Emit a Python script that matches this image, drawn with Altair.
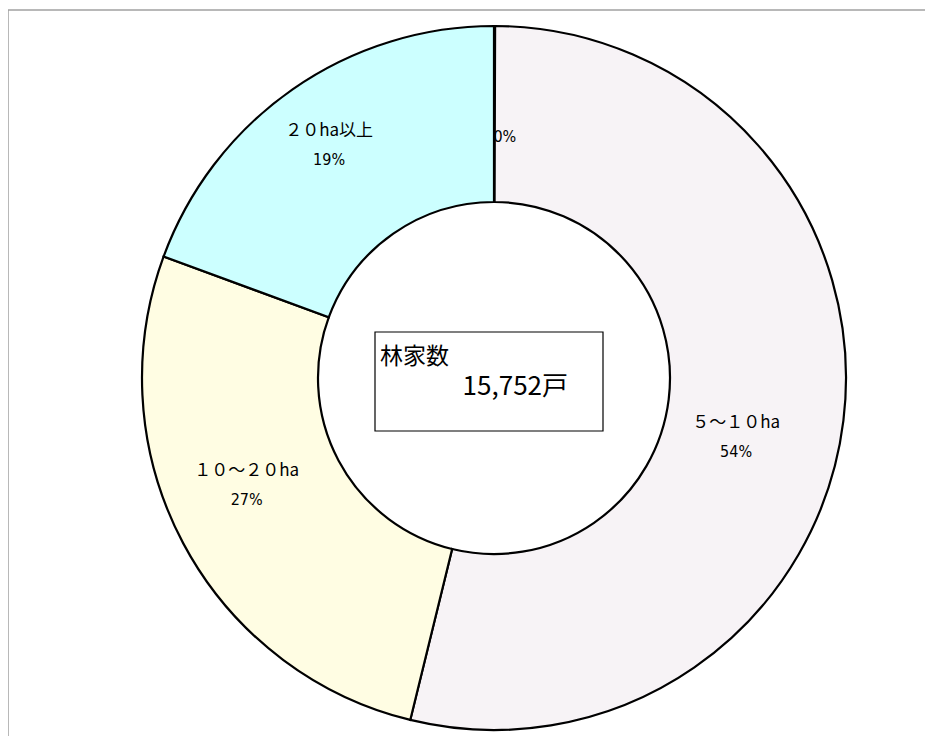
import altair as alt
import pandas as pd

# data
categories = ["", "５～１０ha", "１０～２０ha", "２０ha以上"]
shares = [0.05, 53.8, 26.8, 19.4]
pct_labels = ["0%", "54%", "27%", "19%"]
fills = ["#f7f3f6", "#f7f3f6", "#fffde3", "#ccffff"]
center_title = "林家数"
center_value = "15,752戸"

df = pd.DataFrame({
    "cat": categories,
    "share": shares,
    "pct": pct_labels,
    "idx": list(range(len(categories))),
})

CX, CY = 486, 370
R_OUT, R_IN = 352, 176
R_LAB = 262
NARROW = "Liberation Sans Narrow, DejaVu Sans Condensed, Noto Sans"

# per-label nudges (label placement style)
nudges = {0: (0, 0), 1: (-18, 28), 2: (-16, -15), 3: (-15, -17)}

theta = alt.Theta("share:Q", stack=True)
order = alt.Order("idx:Q", sort="ascending")
color = alt.Color("idx:N", scale=alt.Scale(domain=list(range(len(categories))), range=fills), legend=None)

base = alt.Chart(df)

arcs = base.mark_arc(stroke="black", strokeWidth=2.2).encode(
    theta=theta, order=order, color=color,
    x=alt.value(CX), y=alt.value(CY),
    radius=alt.value(R_OUT), radius2=alt.value(R_IN),
)

label_layers = []
for i in range(1, len(categories)):
    ndx, ndy = nudges[i]
    label_layers.append(
        base.transform_calculate(t=f"datum.idx == {i} ? datum.cat : ''").mark_text(
            font="Noto Sans CJK JP", fontSize=17, color="black", dx=ndx, dy=ndy - 15
        ).encode(theta=theta, order=order, text="t:N",
                 x=alt.value(CX), y=alt.value(CY), radius=alt.value(R_LAB))
    )
    label_layers.append(
        base.transform_calculate(t=f"datum.idx == {i} ? datum.pct : ''").mark_text(
            font=NARROW, fontSize=16, color="black", dx=ndx, dy=ndy + 14
        ).encode(theta=theta, order=order, text="t:N",
                 x=alt.value(CX), y=alt.value(CY), radius=alt.value(R_LAB))
    )

zero = base.transform_calculate(t="datum.idx == 0 ? datum.pct : ''").mark_text(
    font=NARROW, fontSize=16, color="black", align="left", dx=-1
).encode(
    theta=theta, order=order, text="t:N",
    x=alt.value(CX), y=alt.value(CY), radius=alt.value(241),
)

box = alt.Chart(pd.DataFrame({"a": [0]})).mark_rect(
    fill="white", stroke="black", strokeWidth=1.2
).encode(x=alt.value(367), x2=alt.value(595), y=alt.value(324), y2=alt.value(423))

t1 = alt.Chart(pd.DataFrame({"t": [center_title]})).mark_text(
    font="Noto Sans CJK JP", fontSize=23, align="left", baseline="middle", color="black"
).encode(x=alt.value(372), y=alt.value(349), text="t:N")

t2 = alt.Chart(pd.DataFrame({"t": [center_value]})).mark_text(
    font="Noto Sans CJK JP", fontSize=26, align="right", baseline="middle", color="black"
).encode(x=alt.value(560), y=alt.value(379), text="t:N")

frame_top = alt.Chart(pd.DataFrame({"a": [0]})).mark_rule(color="#a0a0a0", strokeWidth=1.5).encode(
    x=alt.value(0), x2=alt.value(917), y=alt.value(2)
)
frame_left = alt.Chart(pd.DataFrame({"a": [0]})).mark_rule(color="#a0a0a0", strokeWidth=1.5).encode(
    x=alt.value(0), y=alt.value(2), y2=alt.value(728)
)

chart = alt.layer(
    frame_top, frame_left, arcs, *label_layers, zero, box, t1, t2
).properties(
    width=917, height=728, padding=0,
    autosize=alt.AutoSizeParams(type="none"),
).configure_view(stroke=None)

chart.save("out.html", embed_options={"renderer": "svg", "actions": False})
